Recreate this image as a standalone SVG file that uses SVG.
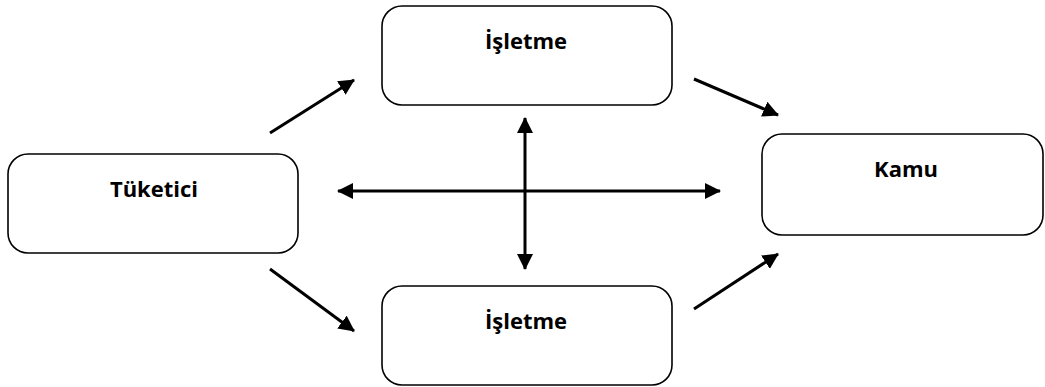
<svg xmlns="http://www.w3.org/2000/svg" width="1045" height="387" viewBox="0 0 1045 387">
  <defs>
    <style>
      .box { fill: #ffffff; stroke: #000000; stroke-width: 1.6; }
      .label { font-family: "Open Sans", "Liberation Sans", sans-serif; font-weight: bold; font-size: 22px; fill: #000000; text-anchor: middle; }
      .link { stroke: #000000; stroke-width: 3; fill: none; marker-end: url(#head); }
      .both { marker-start: url(#head); }
    </style>
    <marker id="head" viewBox="0 0 16 16" refX="15" refY="8" markerWidth="16" markerHeight="16" markerUnits="userSpaceOnUse" orient="auto-start-reverse">
      <path d="M0,0 L16,8 L0,16 Z" fill="#000000"/>
    </marker>
  </defs>
  <rect width="1045" height="387" fill="#ffffff"/>

  <g id="connectors">
    <line class="link" x1="270" y1="133" x2="354" y2="80"/>
    <line class="link" x1="694" y1="79" x2="778" y2="115"/>
    <line class="link" x1="270" y1="269" x2="354" y2="331"/>
    <line class="link" x1="694" y1="309" x2="778" y2="254"/>
    <line class="link both" x1="338" y1="191" x2="720" y2="191"/>
    <line class="link both" x1="525" y1="118" x2="525" y2="269"/>
  </g>

  <g id="isletme-top">
    <rect class="box" x="382" y="6" width="290" height="99" rx="20" ry="20"/>
    <text class="label" x="526" y="49">İşletme</text>
  </g>

  <g id="tuketici">
    <rect class="box" x="8" y="154" width="290" height="99" rx="20" ry="20"/>
    <text class="label" x="154" y="197">Tüketici</text>
  </g>

  <g id="kamu">
    <rect class="box" x="762" y="134" width="281" height="101" rx="20" ry="20"/>
    <text class="label" x="906" y="177">Kamu</text>
  </g>

  <g id="isletme-bottom">
    <rect class="box" x="382" y="286" width="290" height="99" rx="20" ry="20"/>
    <text class="label" x="526" y="329">İşletme</text>
  </g>
</svg>
